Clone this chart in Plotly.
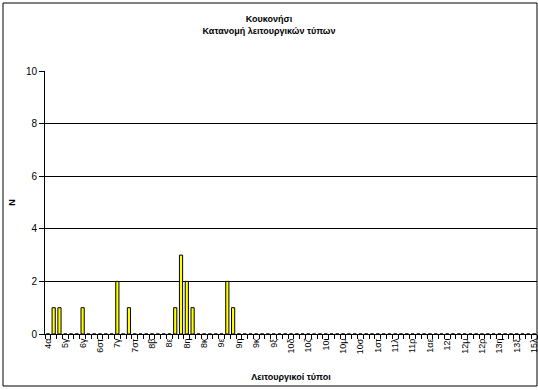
import plotly.graph_objects as go

# Categories (85 functional types; only every third is labelled on the axis)
categories = [
    "4α", "4β", "5α", "5γ", "5δ", "6α", "6γ", "6δ", "6ε", "6στ",
    "7α", "7β", "7γ", "7δ", "7ε", "7στ", "7ζ", "8α", "8β", "8γ",
    "8δ", "8ε", "8στ", "8ζ", "8η", "8θ", "8ι", "8κ", "9γ", "9δ",
    "9ε", "9στ", "9ζ", "9η", "9θ", "9ι", "9κ", "9λ", "9μ", "9ξ",
    "10β", "10γ", "10δ", "10ε", "10στ", "10ζ", "10η", "10θ", "10ι", "10κ",
    "10λ", "10μ", "10ν", "10ρ", "10σ", "11α", "11ε", "1στ", "11θ", "11κ",
    "11λ", "11μ", "11ο", "11ρ", "11σ", "11ω", "1αε", "12β", "12η", "12ι",
    "12κ", "12λ", "12μ", "12ν", "12π", "12ρ", "13α", "13ε", "13η", "13ι",
    "13ν", "13ξ", "14α", "15ζ", "15λ",
]

# Labels shown on the axis
tick_labels = [
    "4α", "5γ", "6γ", "6στ", "7γ", "7στ", "8β", "8ε", "8η", "8κ",
    "9ε", "9η", "9κ", "9ξ", "10δ", "10ζ", "10ι", "10μ", "10σ", "1στ",
    "11λ", "11ρ", "1αε", "12ι", "12μ", "12ρ", "13η", "13ξ", "15λ",
]

# Counts (N) per category
counts = {
    "4β": 1, "5α": 1, "6γ": 1, "7γ": 2, "7ε": 1,
    "8στ": 1, "8ζ": 3, "8η": 2, "8θ": 1, "9στ": 2, "9ζ": 1,
}
values = [counts.get(c, 0) for c in categories]

y_ticks = [0, 2, 4, 6, 8, 10]

font_family = "Liberation Sans, Arial, sans-serif"

fig = go.Figure()
fig.add_trace(go.Bar(
    x=categories,
    y=values,
    marker=dict(color="#FFFF00", line=dict(color="#000000", width=1)),
    width=0.55,
    showlegend=False,
))

ticktext = [c if c in tick_labels else "" for c in categories]

fig.update_layout(
    width=538,
    height=390,
    margin=dict(l=45, r=1, t=71, b=56, autoexpand=False),
    paper_bgcolor="white",
    plot_bgcolor="white",
    font=dict(family=font_family, color="black", size=10),
    title=dict(
        text="<b>Κουκονήσι</b><br><b>Κατανομή λειτουργικών τύπων</b>",
        x=0.5, xref="container", xanchor="center",
        y=0.944, yref="container", yanchor="top",
        font=dict(size=9, family=font_family, color="black"),
    ),
    xaxis=dict(
        type="category",
        categoryorder="array",
        categoryarray=categories,
        tickmode="array",
        tickvals=categories,
        ticktext=ticktext,
        tickangle=-90,
        tickson="boundaries",
        ticks="outside",
        ticklen=4,
        tickcolor="black",
        tickfont=dict(size=9, family=font_family),
        showline=True,
        linecolor="black",
        linewidth=1,
        showgrid=False,
        automargin=False,
        range=[-0.5, len(categories) - 0.5],
        title=dict(text="<b>Λειτουργικοί τύποι</b>", font=dict(size=9, family=font_family), standoff=20),
    ),
    yaxis=dict(
        range=[0, 10],
        tickmode="array",
        tickvals=y_ticks,
        ticks="outside",
        ticklen=5,
        tickcolor="black",
        tickfont=dict(size=10, family=font_family),
        showline=True,
        linecolor="black",
        linewidth=1,
        showgrid=True,
        gridcolor="black",
        gridwidth=1,
        zeroline=False,
        automargin=False,
        title=dict(text="<b>N</b>", font=dict(size=9, family=font_family), standoff=8),
    ),
    shapes=[
        dict(type="rect", xref="paper", yref="paper",
             x0=-42 / 492, x1=1.0, y0=-52 / 263, y1=1 + 68 / 263,
             line=dict(color="black", width=1), fillcolor="rgba(0,0,0,0)"),
    ],
)

fig.write_html("out.html", config={"displayModeBar": False},
               post_script="document.body.style.margin='0px';")
